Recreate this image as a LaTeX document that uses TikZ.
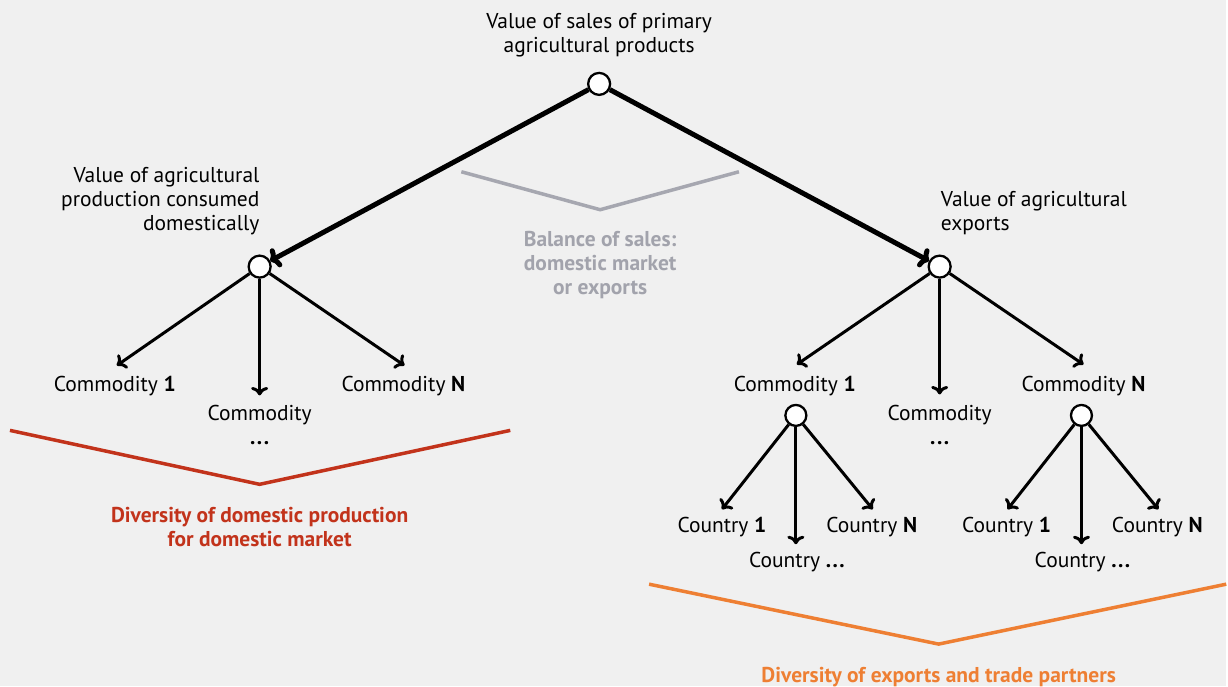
\documentclass[tikz,border=0pt]{standalone}
\usepackage{fontspec}
\setmainfont{PT Sans}
\usetikzlibrary{arrows.meta}
\definecolor{bgc}{HTML}{F0F0F0}
\definecolor{grayln}{HTML}{A6A7B0}
\definecolor{graytx}{HTML}{A2A3AC}
\definecolor{redc}{HTML}{C2331B}
\definecolor{orangec}{HTML}{EE7F33}
\newcommand{\tdots}{\textbf{.\kern1.5pt.\kern1.5pt.}}
\begin{document}
\begin{tikzpicture}[x=1pt,y=-1pt,
  dot/.style={circle,draw=black,fill=white,line width=2.3pt,minimum size=22pt,inner sep=0pt},
  subdot/.style={dot,minimum size=21pt},
  lbl/.style={font=\fontsize{21.5}{24}\selectfont,inner sep=0pt},
  blbl/.style={lbl,font=\fontsize{21.5}{24}\selectfont\bfseries},
  bigarr/.style={line width=5pt,-{To[length=9pt,width=21pt]}},
  smallarr/.style={line width=3pt,-{To[length=8.5pt,width=17pt]}},
  chev/.style={line width=3.5pt},
]
\fill[bgc] (0,0) rectangle (1228,687);

% top
\node[dot] (top) at (600,84) {};
\node[lbl,align=center] (toplbl) at (600,35) {Value of sales of primary\\agricultural products};

% second level
\node[dot] (L) at (260,267) {};
\node[dot] (R) at (941,267) {};
\node[lbl,align=right,anchor=east] (Llbl) at (260,201) {Value of agricultural\\production consumed\\domestically};
\node[lbl,align=left,anchor=west] (Rlbl) at (942,213) {Value of agricultural\\exports};
\draw[bigarr] (top) -- (L);
\draw[bigarr] (top) -- (R);

% gray chevron
\coordinate (g1) at (462,172);
\coordinate (g2) at (601,210);
\coordinate (g3) at (740,172);
\draw[chev,grayln] (g1) -- (g2) -- (g3);
\node[blbl,align=center,text=graytx] (glbl) at (601,265) {Balance of sales:\\domestic market\\or exports};

% left commodities
\coordinate (L1e) at (117,366);
\coordinate (L2e) at (260,396);
\coordinate (L3e) at (405,366);
\draw[smallarr] (L) -- (L1e);
\draw[smallarr] (L) -- (L2e);
\draw[smallarr] (L) -- (L3e);
\node[lbl] (L1) at (115,387) {Commodity \textbf{1}};
\node[lbl,align=center] (L2) at (260,426) {Commodity\\\tdots};
\node[lbl] (L3) at (404,387) {Commodity \textbf{N}};

% red chevron
\coordinate (r1) at (10,431);
\coordinate (r2) at (260,485);
\coordinate (r3) at (511,431);
\draw[chev,redc] (r1) -- (r2) -- (r3);
\node[blbl,align=center,text=redc] (rlbl) at (260,528) {Diversity of domestic production\\for domestic market};

% right commodities
\coordinate (R1e) at (798,365);
\coordinate (R2e) at (941,395);
\coordinate (R3e) at (1085,365);
\draw[smallarr] (R) -- (R1e);
\draw[smallarr] (R) -- (R2e);
\draw[smallarr] (R) -- (R3e);
\node[lbl] (R1) at (796,387) {Commodity \textbf{1}};
\node[lbl,align=center] (R2) at (941,426) {Commodity\\\tdots};
\node[lbl] (R3) at (1085,387) {Commodity \textbf{N}};

% countries under commodity 1
\node[subdot] (C1) at (797,416) {};
\coordinate (C1a) at (723,510);
\coordinate (C1b) at (797,545);
\coordinate (C1c) at (874,510);
\draw[smallarr] (C1) -- (C1a);
\draw[smallarr] (C1) -- (C1b);
\draw[smallarr] (C1) -- (C1c);
\node[lbl] (K1a) at (723,528) {Country \textbf{1}};
\node[lbl] (K1b) at (798,563) {Country \tdots};
\node[lbl] (K1c) at (873,528) {Country \textbf{N}};

% countries under commodity N
\node[subdot] (CN) at (1083,416) {};
\coordinate (CNa) at (1009,510);
\coordinate (CNb) at (1083,545);
\coordinate (CNc) at (1160,510);
\draw[smallarr] (CN) -- (CNa);
\draw[smallarr] (CN) -- (CNb);
\draw[smallarr] (CN) -- (CNc);
\node[lbl] (KNa) at (1008,528) {Country \textbf{1}};
\node[lbl] (KNb) at (1084,563) {Country \tdots};
\node[lbl] (KNc) at (1159,528) {Country \textbf{N}};

% orange chevron
\coordinate (o1) at (650,585);
\coordinate (o2) at (940,645);
\coordinate (o3) at (1228,585);
\draw[chev,orangec] (o1) -- (o2) -- (o3);
\node[blbl,text=orangec] (olbl) at (940,678) {Diversity of exports and trade partners};
\end{tikzpicture}
\end{document}
